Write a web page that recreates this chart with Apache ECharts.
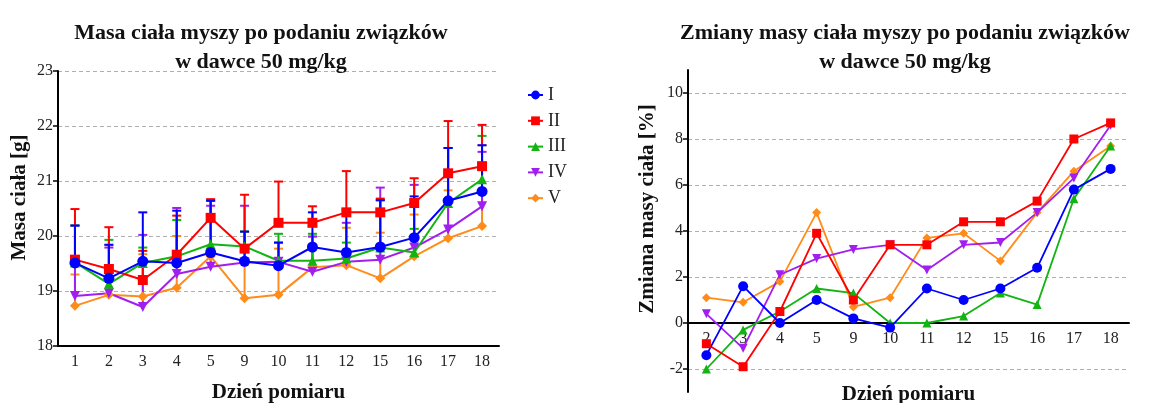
<!DOCTYPE html>
<html>
<head>
<meta charset="utf-8">
<script src="https://cdn.jsdelivr.net/npm/echarts@6/dist/echarts.min.js"></script>
<style>
  html, body { margin: 0; padding: 0; background: #fff; }
  #chart { width: 1149px; height: 403px; }
</style>
</head>
<body>
<div id="chart"></div>
<script>
// Measurement days
const daysMass = ['1', '2', '3', '4', '5', '9', '10', '11', '12', '15', '16', '17', '18'];
const daysChange = ['2', '3', '4', '5', '9', '10', '11', '12', '15', '16', '17', '18'];

const groupNames = ['I', 'II', 'III', 'IV', 'V'];

// Mean body mass [g]
const massI   = [19.51, 19.23, 19.54, 19.51, 19.70, 19.54, 19.46, 19.80, 19.70, 19.80, 19.97, 20.64, 20.81];
const massII  = [19.57, 19.40, 19.20, 19.66, 20.33, 19.77, 20.24, 20.24, 20.43, 20.43, 20.60, 21.14, 21.27];
const massIII = [19.52, 19.13, 19.51, 19.63, 19.85, 19.81, 19.55, 19.55, 19.59, 19.79, 19.70, 20.60, 21.03];
const massIV  = [18.91, 18.96, 18.71, 19.31, 19.44, 19.52, 19.53, 19.35, 19.53, 19.57, 19.79, 20.12, 20.54];
const massV   = [18.73, 18.93, 18.90, 19.06, 19.63, 18.87, 18.93, 19.43, 19.47, 19.23, 19.63, 19.96, 20.18];

// Standard deviation of body mass [g]
const sdI   = [0.68, 0.61, 0.89, 0.95, 0.94, 0.54, 0.42, 0.63, 0.78, 0.85, 0.75, 0.96, 0.84];
const sdII  = [0.92, 0.76, 0.53, 0.71, 0.34, 0.98, 0.75, 0.30, 0.75, 0.25, 0.45, 0.95, 0.75];
const sdIII = [0.67, 0.80, 0.28, 0.66, 0.80, 0.27, 0.49, 0.49, 0.29, 0.86, 0.43, 1.00, 0.79];
const sdIV  = [1.28, 0.83, 1.31, 1.20, 1.11, 1.03, 0.35, 0.64, 0.71, 1.31, 1.14, 1.48, 0.99];
const sdV   = [0.57, 0.91, 0.77, 0.94, 1.01, 1.21, 0.84, 0.56, 0.68, 0.83, 0.76, 0.87, 1.47];

// Body mass change relative to day 1 [%]
const changeI   = [-1.4, 1.6, 0.0, 1.0, 0.2, -0.2, 1.5, 1.0, 1.5, 2.4, 5.8, 6.7];
const changeII  = [-0.9, -1.9, 0.5, 3.9, 1.0, 3.4, 3.4, 4.4, 4.4, 5.3, 8.0, 8.7];
const changeIII = [-2.0, -0.3, 0.5, 1.5, 1.3, 0.0, 0.0, 0.3, 1.3, 0.8, 5.4, 7.7];
const changeIV  = [0.4, -1.1, 2.1, 2.8, 3.2, 3.4, 2.3, 3.4, 3.5, 4.8, 6.3, 8.6];
const changeV   = [1.1, 0.9, 1.8, 4.8, 0.7, 1.1, 3.7, 3.9, 2.7, 4.8, 6.6, 7.7];

// Tick values and axis ranges
const massTicks = [18, 19, 20, 21, 22, 23];
const changeTicks = [-2, 0, 2, 4, 6, 8, 10];
const changeMin = -3;
const changeMax = 11;

const colors = ['#0000ff', '#ff0000', '#11b411', '#a21ef0', '#ff8c1a'];
const symbols = ['circle', 'rect', 'triangle', 'path://M0,0 L10,0 L5,9 Z', 'diamond'];
const massData = [massI, massII, massIII, massIV, massV];
const sdData = [sdI, sdII, sdIII, sdIV, sdV];
const changeData = [changeI, changeII, changeIII, changeIV, changeV];

const FONT = '"Liberation Serif", "DejaVu Serif", serif';
const gridLine = { show: true, lineStyle: { color: '#b0b0b0', type: [4, 3], width: 1 } };

const rightGridHeight = 322;
// The category axis of the right panel sits on the zero line
const zeroOffset = -rightGridHeight * (0 - changeMin) / (changeMax - changeMin);

// Upward SD whiskers with a short cap
function errorBars(i) {
  return {
    type: 'custom',
    name: groupNames[i] + ' SD',
    xAxisIndex: 0, yAxisIndex: 0,
    itemStyle: { color: colors[i] },
    data: daysMass.map((d, k) => [k, massData[i][k], sdData[i][k]]),
    renderItem: function (params, api) {
      const x = api.value(0);
      const mean = api.value(1);
      const sd = api.value(2);
      const p0 = api.coord([x, mean]);
      const p1 = api.coord([x, mean + sd]);
      const style = { stroke: colors[i], lineWidth: 2 };
      return {
        type: 'group',
        children: [
          { type: 'line', shape: { x1: p0[0], y1: p0[1], x2: p1[0], y2: p1[1] }, style: style },
          { type: 'line', shape: { x1: p1[0] - 4.5, y1: p1[1], x2: p1[0] + 4.5, y2: p1[1] }, style: style }
        ]
      };
    },
    z: 2
  };
}

const series = [];
// Group V is drawn first so group I ends up on top
for (let i = 4; i >= 0; i--) {
  series.push(errorBars(i));
  series.push({
    type: 'line', name: groupNames[i], xAxisIndex: 0, yAxisIndex: 0,
    data: massData[i],
    symbol: symbols[i], symbolSize: i === 0 ? 11 : 10,
    itemStyle: { color: colors[i] },
    lineStyle: { color: colors[i], width: 2 },
    z: 2
  });
}
for (let i = 4; i >= 0; i--) {
  series.push({
    type: 'line', name: groupNames[i], xAxisIndex: 1, yAxisIndex: 1,
    data: changeData[i],
    symbol: symbols[i], symbolSize: i === 0 ? 10 : 9,
    itemStyle: { color: colors[i] },
    lineStyle: { color: colors[i], width: 1.8 },
    z: 3
  });
}

const titleStyle = { fontFamily: FONT, fontWeight: 'bold', fontSize: 22, color: '#111', lineHeight: 29 };
const axisLabelStyle = { fontFamily: FONT, fontSize: 16, color: '#222' };
const nameStyle = { fontFamily: FONT, fontWeight: 'bold', fontSize: 21, color: '#111' };

const option = {
  animation: false,
  backgroundColor: '#fff',
  title: [
    { text: 'Masa ciała myszy po podaniu związków\nw dawce 50 mg/kg', left: 256, top: 14, textAlign: 'center', textStyle: titleStyle },
    { text: 'Zmiany masy ciała myszy po podaniu związków\nw dawce 50 mg/kg', left: 900, top: 14, textAlign: 'center', textStyle: titleStyle }
  ],
  legend: {
    data: groupNames,
    orient: 'vertical', left: 522, top: 81,
    itemWidth: 15, itemHeight: 11, itemGap: 7.8,
    textStyle: { fontFamily: FONT, fontSize: 18, color: '#222' }
  },
  grid: [
    { left: 58, top: 71, width: 441, height: 275, outerBoundsMode: 'none' },
    { left: 688, top: 70, width: 441, height: rightGridHeight, outerBoundsMode: 'none' }
  ],
  xAxis: [
    {
      type: 'category', gridIndex: 0, data: daysMass,
      axisLine: { lineStyle: { color: '#000', width: 2 } },
      axisTick: { alignWithLabel: true, length: 4, lineStyle: { color: '#000', width: 1.5 } },
      axisLabel: Object.assign({ margin: 8 }, axisLabelStyle),
      name: 'Dzień pomiaru', nameLocation: 'middle', nameGap: 36, nameTextStyle: nameStyle
    },
    {
      type: 'category', gridIndex: 1, data: daysChange, position: 'bottom', offset: zeroOffset,
      axisLine: { onZero: false, lineStyle: { color: '#000', width: 2 } },
      axisTick: { alignWithLabel: true, length: 4, lineStyle: { color: '#000', width: 1.5 } },
      axisLabel: Object.assign({ margin: 8 }, axisLabelStyle),
      name: 'Dzień pomiaru', nameLocation: 'middle', nameGap: 61, nameTextStyle: nameStyle
    }
  ],
  yAxis: [
    {
      type: 'value', gridIndex: 0, min: 18, max: 23, interval: 1,
      axisLine: { show: true, lineStyle: { color: '#000', width: 2 } },
      axisTick: { show: true, length: 5, lineStyle: { color: '#000', width: 1.5 } },
      axisLabel: Object.assign({ margin: 5, customValues: massTicks }, axisLabelStyle),
      splitLine: gridLine,
      name: 'Masa ciała [g]', nameLocation: 'middle', nameGap: 28,
      nameTextStyle: Object.assign({ padding: [0, 0, 0, 22] }, nameStyle)
    },
    {
      type: 'value', gridIndex: 1, min: changeMin, max: changeMax,
      axisLine: { show: true, onZero: false, lineStyle: { color: '#000', width: 2 } },
      axisTick: { show: true, length: 5, customValues: changeTicks, lineStyle: { color: '#000', width: 1.5 } },
      axisLabel: Object.assign({ margin: 5, customValues: changeTicks }, axisLabelStyle),
      splitLine: gridLine,
      name: 'Zmiana masy ciała [%]', nameLocation: 'middle', nameGap: 30,
      nameTextStyle: Object.assign({ padding: [0, 0, 0, 44] }, nameStyle)
    }
  ],
  series: series
};

const chart = echarts.init(document.getElementById('chart'), null, { renderer: 'canvas' });
chart.setOption(option);
</script>
</body>
</html>
